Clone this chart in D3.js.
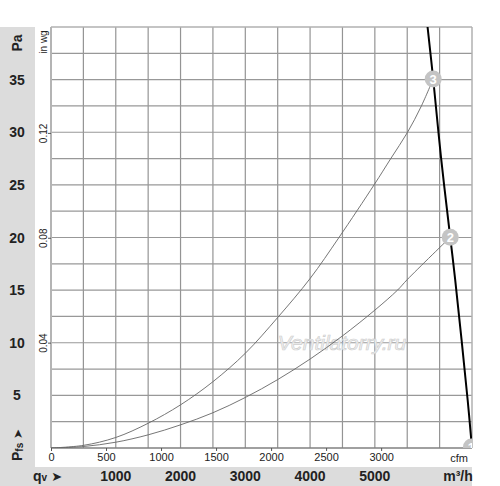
<!DOCTYPE html>
<html>
<head>
<meta charset="utf-8">
<script src="https://cdn.jsdelivr.net/npm/d3@7"></script>
<style>
  body { margin: 0; background: #fff; }
  svg { display: block; font-family: "Liberation Sans", Arial, sans-serif; }
</style>
</head>
<body>
<svg id="chart" width="500" height="486"></svg>
<script>
'use strict';

// system curve 3 (upper)
const curve3Flow = [0, 500, 1000, 1500, 2000, 2500, 3000, 3500, 4000, 4446, 4988, 5246, 5505, 5711, 5901];
const curve3Pa = [0, 0.25, 1.0, 2.35, 4.1, 6.3, 9.0, 12.4, 16.1, 20.0, 25.0, 27.5, 30.0, 32.4, 35.06];

// system curve 2 (lower)
const curve2Flow = [0, 500, 1000, 1500, 2000, 2500, 3000, 3500, 4000, 4500, 5000, 5350, 5500, 6164];
const curve2Pa = [0, 0.14, 0.55, 1.25, 2.2, 3.35, 4.8, 6.5, 8.45, 10.65, 13.1, 15.0, 16.0, 20.02];

// fan curve (thick)
const fanFlow = [5814, 5901, 6020, 6164, 6241, 6433, 6500];
const fanPa = [40, 35.06, 27.7, 20.02, 15.96, 4.56, 0];

// operating points
const pointLabels = ["3", "2", "1"];
const pointFlow = [5901, 6164, 6492];
const pointPa = [35.06, 20.02, 0.1];

// tick labels
const paTicks = [5, 10, 15, 20, 25, 30, 35];
const inwgTicks = [0.04, 0.08, 0.12];
const cfmTicks = [0, 500, 1000, 1500, 2000, 2500, 3000];
const m3hTicks = [1000, 2000, 3000, 4000, 5000];

const svg = d3.select("#chart");
const pLeft = 51, pRight = 472, pTop = 27, pBottom = 448;

const x = d3.scaleLinear().domain([0, 6500]).range([pLeft, pRight]);
const y = d3.scaleLinear().domain([0, 40]).range([pBottom, pTop]);
const xCfm = d3.scaleLinear().domain([0, 6500 / 1.699]).range([pLeft, pRight]);
const yInwg = d3.scaleLinear().domain([0, 40 / 249.09]).range([pBottom, pTop]);

// grey side panels
svg.append("rect").attr("x", 0).attr("y", pTop).attr("width", 35).attr("height", 467 - pTop).attr("fill", "#dcdcdc");
svg.append("rect").attr("x", 0).attr("y", 467).attr("width", pRight).attr("height", 19).attr("fill", "#dcdcdc");

// grid
const grid = svg.append("g");
grid.selectAll("line.v")
    .data(d3.range(500, 6500, 500))
    .enter().append("line")
    .attr("x1", d => x(d)).attr("x2", d => x(d))
    .attr("y1", pTop).attr("y2", pBottom)
    .attr("stroke", "#949494").attr("stroke-width", 1.2);
grid.selectAll("line.h")
    .data(d3.range(2.5, 40, 2.5))
    .enter().append("line")
    .attr("x1", pLeft).attr("x2", pRight)
    .attr("y1", d => y(d)).attr("y2", d => y(d))
    .attr("stroke", "#989898").attr("stroke-width", 1.2);

// frame
svg.append("line").attr("x1", pLeft).attr("x2", pRight).attr("y1", pTop).attr("y2", pTop).attr("stroke", "#b0b0b0").attr("stroke-width", 1.5);
svg.append("line").attr("x1", pRight).attr("x2", pRight).attr("y1", pTop).attr("y2", pBottom).attr("stroke", "#b0b0b0").attr("stroke-width", 1.5);
svg.append("line").attr("x1", pLeft).attr("x2", pLeft).attr("y1", pTop).attr("y2", pBottom).attr("stroke", "#b4b4b4").attr("stroke-width", 2);
svg.append("line").attr("x1", pLeft).attr("x2", pRight).attr("y1", pBottom).attr("y2", pBottom).attr("stroke", "#808080").attr("stroke-width", 1.5);

// watermark
svg.append("text")
    .attr("x", 342).attr("y", 350)
    .attr("text-anchor", "middle")
    .attr("font-size", 21).attr("font-style", "italic")
    .attr("fill", "#f2f2f2").attr("stroke", "#cfcfcf").attr("stroke-width", 0.7)
    .text("Ventilatorry.ru");

// clip
svg.append("clipPath").attr("id", "plotClip")
    .append("rect").attr("x", pLeft).attr("y", pTop).attr("width", pRight - pLeft).attr("height", pBottom - pTop);

const plot = svg.append("g").attr("clip-path", "url(#plotClip)");

const line = d3.line()
    .curve(d3.curveCatmullRom.alpha(0.5))
    .x(d => x(d[0]))
    .y(d => y(d[1]));

plot.append("path")
    .attr("d", line(d3.zip(curve3Flow, curve3Pa)))
    .attr("fill", "none").attr("stroke", "#666").attr("stroke-width", 0.9);
plot.append("path")
    .attr("d", line(d3.zip(curve2Flow, curve2Pa)))
    .attr("fill", "none").attr("stroke", "#666").attr("stroke-width", 0.9);

plot.append("path")
    .attr("d", line(d3.zip(fanFlow, fanPa)))
    .attr("fill", "none").attr("stroke", "#000").attr("stroke-width", 2);

// operating points
const pts = plot.selectAll("g.pt")
    .data(d3.zip(pointLabels, pointFlow, pointPa))
    .enter().append("g")
    .attr("transform", d => "translate(" + x(d[1]) + "," + y(d[2]) + ")");
pts.append("circle").attr("r", 8.5).attr("fill", "#c4c4c4");
pts.append("text")
    .attr("text-anchor", "middle").attr("y", 5)
    .attr("font-size", 13).attr("font-weight", "bold").attr("fill", "#fff")
    .text(d => d[0]);

// left axis: Pa
svg.selectAll("text.pa")
    .data(paTicks)
    .enter().append("text")
    .attr("x", 17).attr("y", d => y(d) + 5)
    .attr("text-anchor", "middle")
    .attr("font-size", 14).attr("font-weight", "bold").attr("fill", "#222")
    .text(d => d);
svg.append("text")
    .attr("transform", "translate(22,43) rotate(-90)")
    .attr("text-anchor", "middle")
    .attr("font-size", 14).attr("font-weight", "bold").attr("fill", "#222")
    .text("Pa");

const pfs = svg.append("text")
    .attr("transform", "translate(22,461) rotate(-90)")
    .attr("fill", "#222");
pfs.append("tspan").attr("font-size", 14).attr("font-weight", "bold").text("P");
pfs.append("tspan").attr("font-size", 10).attr("font-weight", "bold").attr("dy", 1).text("fs");
pfs.append("tspan").attr("font-size", 12).attr("dy", -1).attr("font-family", "DejaVu Sans").text(" \u27A4");

// in wg axis
svg.selectAll("line.inwg")
    .data(inwgTicks)
    .enter().append("line")
    .attr("x1", pLeft - 3).attr("x2", pLeft)
    .attr("y1", d => yInwg(d)).attr("y2", d => yInwg(d))
    .attr("stroke", "#555");
svg.selectAll("text.inwg")
    .data(inwgTicks)
    .enter().append("text")
    .attr("transform", d => "translate(47," + yInwg(d) + ") rotate(-90)")
    .attr("text-anchor", "middle")
    .attr("font-size", 10).attr("fill", "#222")
    .text(d => d.toFixed(2));
svg.append("text")
    .attr("transform", "translate(47,42) rotate(-90)")
    .attr("text-anchor", "middle")
    .attr("font-size", 10).attr("fill", "#222")
    .text("in wg");

// bottom axis: cfm
const cfmAxis = d3.axisBottom(xCfm).tickValues(cfmTicks).tickFormat(d3.format("d")).tickSize(3).tickPadding(2);
const cfmG = svg.append("g")
    .attr("transform", "translate(0," + pBottom + ")")
    .call(cfmAxis);
cfmG.select(".domain").remove();
cfmG.selectAll("line").attr("stroke", "#555");
cfmG.selectAll("text").attr("font-size", 11).attr("fill", "#222")
    .attr("font-family", "Liberation Sans, Arial, sans-serif");
svg.append("text")
    .attr("x", 459).attr("y", 462)
    .attr("text-anchor", "middle")
    .attr("font-size", 11).attr("fill", "#222")
    .text("cfm");

// bottom band: m3/h
svg.selectAll("text.m3h")
    .data(m3hTicks)
    .enter().append("text")
    .attr("x", d => x(d)).attr("y", 481)
    .attr("text-anchor", "middle")
    .attr("font-size", 14).attr("font-weight", "bold").attr("fill", "#222")
    .text(d => d);
svg.append("text")
    .attr("x", 458).attr("y", 481)
    .attr("text-anchor", "middle")
    .attr("font-size", 14).attr("font-weight", "bold").attr("fill", "#222")
    .text("m\u00B3/h");

const qv = svg.append("text").attr("x", 33).attr("y", 481).attr("fill", "#222");
qv.append("tspan").attr("font-size", 14).attr("font-weight", "bold").text("q");
qv.append("tspan").attr("font-size", 10).attr("font-weight", "bold").text("v");
qv.append("tspan").attr("font-size", 13).attr("font-family", "DejaVu Sans").text(" \u27A4");
</script>
</body>
</html>
